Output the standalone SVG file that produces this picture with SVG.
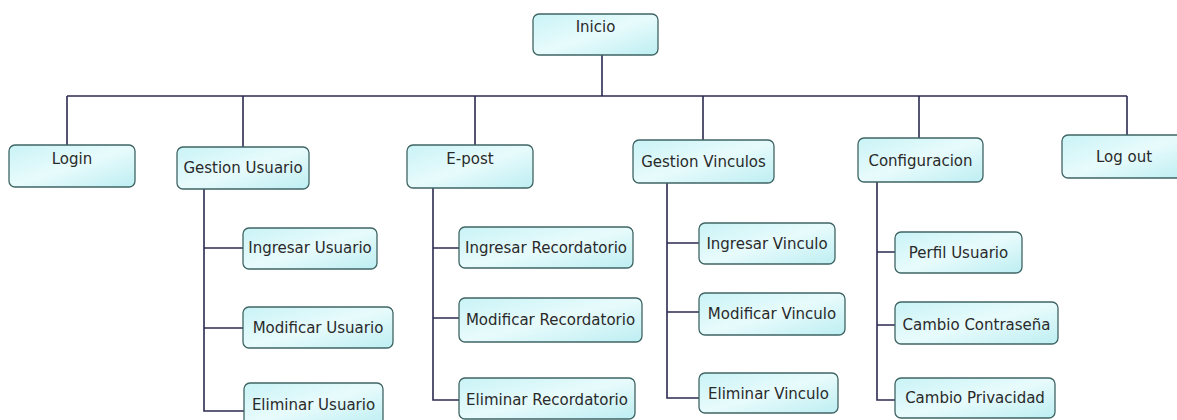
<svg xmlns="http://www.w3.org/2000/svg" width="1177" height="420" viewBox="0 0 1177 420">
<defs>
<linearGradient id="fill" x1="0" y1="0" x2="1" y2="1">
<stop offset="0" stop-color="#c9f3f6"/>
<stop offset="0.5" stop-color="#e8fbfc"/>
<stop offset="1" stop-color="#bdeef2"/>
</linearGradient>
</defs>
<style>
.box{fill:url(#fill);stroke:#3f6464;stroke-width:1.3}
.lbl{font-family:"DejaVu Sans",sans-serif;font-size:15px;fill:#2a2a2a;text-anchor:middle}
.ln{fill:none;stroke:#2b2b50;stroke-width:1.6}
</style>
<rect width="1177" height="420" fill="#fff"/>
<g id="connectors">
<path class="ln" d="M602 55V96M67 96H1127M67 96V145M243 96V147M475 96V145M703 96V140M919 96V138M1127 96V135"/>
<path class="ln" d="M204 189V411H244M204 248H243M204 328H243"/>
<path class="ln" d="M433 188V400H459M433 248H459M433 318H459"/>
<path class="ln" d="M667 183V398H699M667 243H699M667 312H699"/>
<path class="ln" d="M877 182V400H895M877 252H895M877 325H895"/>
</g>
<g id="inicio"><rect class="box" x="533" y="14" width="125" height="41" rx="6"/><text class="lbl" x="595.5" y="32">Inicio</text></g>
<g id="login"><rect class="box" x="9" y="145" width="126" height="42" rx="6"/><text class="lbl" x="72" y="164">Login</text></g>
<g id="gestion-usuario"><rect class="box" x="177" y="147" width="132" height="42" rx="6"/><text class="lbl" x="243" y="173">Gestion Usuario</text></g>
<g id="e-post"><rect class="box" x="407" y="145" width="126" height="43" rx="6"/><text class="lbl" x="470" y="164">E-post</text></g>
<g id="gestion-vinculos"><rect class="box" x="633" y="140" width="141" height="43" rx="6"/><text class="lbl" x="703.5" y="167">Gestion Vinculos</text></g>
<g id="configuracion"><rect class="box" x="858" y="138" width="125" height="44" rx="6"/><text class="lbl" x="920.5" y="166">Configuracion</text></g>
<g id="log-out"><rect class="box" x="1062" y="135" width="125" height="43" rx="6"/><text class="lbl" x="1124" y="162">Log out</text></g>
<g id="ingresar-usuario"><rect class="box" x="243" y="228" width="134" height="41" rx="6"/><text class="lbl" x="310" y="253">Ingresar Usuario</text></g>
<g id="modificar-usuario"><rect class="box" x="243" y="307" width="150" height="41" rx="6"/><text class="lbl" x="318" y="333">Modificar Usuario</text></g>
<g id="eliminar-usuario"><rect class="box" x="244" y="383" width="139" height="42" rx="6"/><text class="lbl" x="313.5" y="410">Eliminar Usuario</text></g>
<g id="ingresar-recordatorio"><rect class="box" x="459" y="227" width="174" height="41" rx="6"/><text class="lbl" x="546" y="253">Ingresar Recordatorio</text></g>
<g id="modificar-recordatorio"><rect class="box" x="459" y="298" width="183" height="44" rx="6"/><text class="lbl" x="550.5" y="325">Modificar Recordatorio</text></g>
<g id="eliminar-recordatorio"><rect class="box" x="459" y="378" width="176" height="41" rx="6"/><text class="lbl" x="547" y="405">Eliminar Recordatorio</text></g>
<g id="ingresar-vinculo"><rect class="box" x="699" y="223" width="136" height="41" rx="6"/><text class="lbl" x="767" y="249">Ingresar Vinculo</text></g>
<g id="modificar-vinculo"><rect class="box" x="699" y="293" width="146" height="42" rx="6"/><text class="lbl" x="772" y="319">Modificar Vinculo</text></g>
<g id="eliminar-vinculo"><rect class="box" x="699" y="373" width="139" height="40" rx="6"/><text class="lbl" x="768.5" y="399">Eliminar Vinculo</text></g>
<g id="perfil-usuario"><rect class="box" x="895" y="232" width="127" height="41" rx="6"/><text class="lbl" x="958.5" y="258">Perfil Usuario</text></g>
<g id="cambio-contrasena"><rect class="box" x="895" y="302" width="163" height="42" rx="6"/><text class="lbl" x="976.5" y="330">Cambio Contraseña</text></g>
<g id="cambio-privacidad"><rect class="box" x="895" y="378" width="160" height="40" rx="6"/><text class="lbl" x="975" y="403">Cambio Privacidad</text></g>
</svg>
